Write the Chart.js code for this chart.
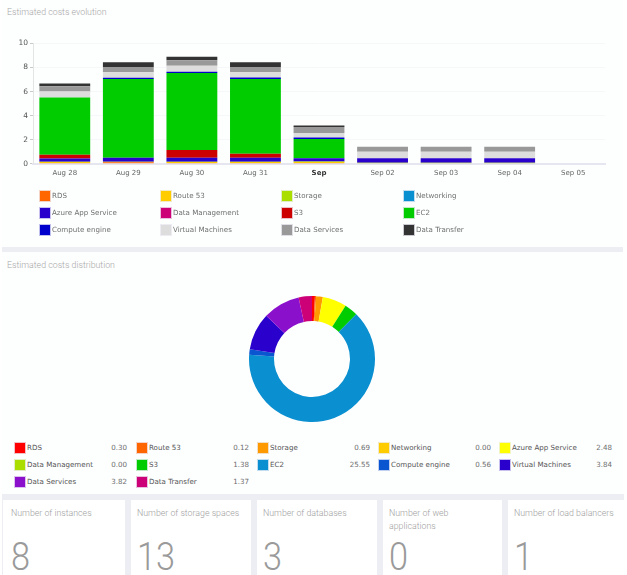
<!DOCTYPE html>
<html>
<head>
<meta charset="utf-8">
<title>Estimated costs</title>
<script src="https://cdn.jsdelivr.net/npm/chart.js@4"></script>
<style>
html, body { margin: 0; padding: 0; background: #fff; }
#page { position: relative; width: 627px; height: 575px; overflow: hidden; background: #fff; }
.panel { position: absolute; background: #fdfefe; }
.title { position: absolute; left: 7px; font: 300 8.8px Roboto, sans-serif; color: #a8a8a8; white-space: nowrap; }
canvas { position: absolute; }
.swatch { position: absolute; width: 10px; height: 10px; border: 1px solid rgba(240,240,248,.8); }
.lbl { position: absolute; font: 7.1px "DejaVu Sans", sans-serif; color: #6f6f6f; white-space: nowrap; line-height: 12px; }
.val { position: absolute; font: 7.1px "DejaVu Sans", sans-serif; color: #6f6f6f; text-align: right; width: 40px; line-height: 12px; }
#distLegend .lbl { color: #555; }
.card { position: absolute; top: 500px; height: 75px; background: #fff; }
.card .name { position: absolute; top: 6.5px; width: 104px; font: 300 8.8px/13px Roboto, sans-serif; color: #a0a0a0; }
.card .num { position: absolute; top: 33.7px; font: 300 39px/46px Roboto, sans-serif; color: #9a9a9a; transform: scaleX(.88); transform-origin: left; }
</style>
</head>
<body>
<div id="page">
    <div class="panel" style="left:2px;top:0;width:621px;height:247px"></div>
    <div style="position:absolute;left:2px;top:247px;width:621px;height:5px;background:#edeef3"></div>
    <div class="panel" style="left:2px;top:252px;width:621px;height:242px"></div>
    <div style="position:absolute;left:2px;top:494px;width:622px;height:81px;background:#edeef3"></div>

    <div class="title" style="top:7px">Estimated costs evolution</div>
    <canvas id="barChart" style="left:0;top:30px;width:627px;height:160px"></canvas>
    <div id="barLegend"></div>

    <div class="title" style="top:260px">Estimated costs distribution</div>
    <canvas id="donutChart" style="left:242px;top:289px;width:140px;height:140px"></canvas>
    <div id="distLegend"></div>

    <div id="cards"></div>
</div>

<script>
// --- Bar chart data ---
const days = ["Aug 28", "Aug 29", "Aug 30", "Aug 31", "Sep", "Sep 02", "Sep 03", "Sep 04", "Sep 05"];
const yTicks = [0, 2, 4, 6, 8, 10];

const rds        = [0.05, 0.12, 0.05, 0.05, 0.05, 0, 0, 0, 0];
const route53    = [0.10, 0.03, 0.10, 0.10, 0.10, 0, 0, 0, 0];
const storage    = [0.02, 0.02, 0.02, 0.02, 0.03, 0.07, 0.07, 0.07, 0];
const networking = [0, 0, 0, 0, 0, 0, 0, 0, 0];
const azureApp   = [0.26, 0.33, 0.33, 0.33, 0.27, 0.38, 0.38, 0.38, 0];
const dataMgmt   = [0, 0, 0, 0, 0, 0, 0, 0, 0];
const s3         = [0.32, 0, 0.65, 0.32, 0, 0, 0, 0, 0];
const ec2        = [4.75, 6.55, 6.40, 6.23, 1.60, 0, 0, 0, 0];
const compute    = [0, 0.10, 0.10, 0.12, 0.12, 0, 0, 0, 0];
const virtualMs  = [0.50, 0.45, 0.50, 0.43, 0.38, 0.55, 0.55, 0.55, 0];
const dataSvc    = [0.45, 0.45, 0.45, 0.45, 0.50, 0.42, 0.42, 0.42, 0];
const dataXfer   = [0.23, 0.40, 0.30, 0.40, 0.13, 0, 0, 0, 0];

const barNames = ["RDS", "Route 53", "Storage", "Networking", "Azure App Service", "Data Management",
    "S3", "EC2", "Compute engine", "Virtual Machines", "Data Services", "Data Transfer"];
const barColors = ["#ff6600", "#ffcc00", "#aadd00", "#0a8fd0", "#2a00cc", "#cc0077",
    "#cc0000", "#00cc00", "#0000cc", "#dddddd", "#999999", "#333333"];
const barSeries = [rds, route53, storage, networking, azureApp, dataMgmt, s3, ec2, compute, virtualMs, dataSvc, dataXfer];

// --- Donut data ---
const distNames = ["RDS", "Route 53", "Storage", "Networking", "Azure App Service", "Data Management",
    "S3", "EC2", "Compute engine", "Virtual Machines", "Data Services", "Data Transfer"];
const distValues = [0.30, 0.12, 0.69, 0.00, 2.48, 0.00, 1.38, 25.55, 0.56, 3.84, 3.82, 1.37];
const distColors = ["#ff0000", "#ff6600", "#ff9900", "#ffcc00", "#ffff00", "#aadd00",
    "#00cc00", "#0a8fd0", "#0a55d0", "#2a00cc", "#8a10cc", "#cc0077"];

// --- Counter cards ---
const cardNames = ["Number of instances", "Number of storage spaces", "Number of databases", "Number of web applications", "Number of load balancers"];
const cardValues = [8, 13, 3, 0, 1];
const cardLeft = [3, 131, 257, 383, 508];
const cardWidth = [122, 120, 120, 119, 116];

function addLegend(host, names, colors, columns, rowHeight, top, values) {
    names.forEach((name, i) => {
        const x = columns[i % columns.length];
        const y = top + Math.floor(i / columns.length) * rowHeight;
        const sw = document.createElement("div");
        sw.className = "swatch";
        sw.style.left = x + "px";
        sw.style.top = y + "px";
        sw.style.background = colors[i];
        host.appendChild(sw);

        const lbl = document.createElement("div");
        lbl.className = "lbl";
        lbl.style.left = (x + 13) + "px";
        lbl.style.top = y + "px";
        lbl.textContent = name;
        host.appendChild(lbl);

        if (values) {
            const val = document.createElement("div");
            val.className = "val";
            val.style.left = (x + 73) + "px";
            val.style.top = y + "px";
            val.textContent = values[i].toFixed(2);
            host.appendChild(val);
        }
    });
}

addLegend(document.getElementById("barLegend"), barNames, barColors, [39, 160, 281, 403], 17.2, 189.5);
addLegend(document.getElementById("distLegend"), distNames, distColors, [14, 136, 257, 378, 499], 17.2, 442, distValues);

const cards = document.getElementById("cards");
cardNames.forEach((name, i) => {
    const c = document.createElement("div");
    const pad = i === 0 ? 8 : 6;
    c.className = "card";
    c.style.left = cardLeft[i] + "px";
    c.style.width = cardWidth[i] + "px";
    c.innerHTML = `<div class="name" style="left:${pad}px">${name}</div><div class="num" style="left:${pad}px">${cardValues[i]}</div>`;
    cards.appendChild(c);
});

// --- Stacked bars ---
new Chart(document.getElementById("barChart").getContext("2d"), {
    type: "bar",
    data: {
        labels: days,
        datasets: barSeries.map((data, i) => ({
            label: barNames[i],
            data,
            backgroundColor: barColors[i],
            barPercentage: 0.8,
            categoryPercentage: 1
        }))
    },
    options: {
        responsive: false,
        animation: false,
        layout: { padding: { top: 13.5, right: 22, left: 0, bottom: 0 } },
        plugins: { legend: { display: false }, tooltip: { enabled: false } },
        scales: {
            x: {
                stacked: true,
                afterFit(scale) { scale.height = 26.3; },
                grid: { display: false, drawTicks: false },
                border: { color: "#e6e6f0", width: 2 },
                ticks: {
                    maxRotation: 0,
                    padding: 5,
                    color: ctx => (days[ctx.index] === "Sep" ? "#333" : "#666"),
                    font: ctx => ({
                        family: "'DejaVu Sans'",
                        size: 7,
                        weight: days[ctx.index] === "Sep" ? "bold" : "normal"
                    })
                }
            },
            y: {
                stacked: true,
                min: 0,
                max: 10,
                afterFit(scale) { scale.width = 33; },
                afterBuildTicks(scale) { scale.ticks = yTicks.map(value => ({ value })); },
                grid: { color: "#f6f7f9", tickColor: "#c8c8c8", tickLength: 3 },
                border: { color: "#e4e4e4" },
                ticks: {
                    padding: 2,
                    color: "#555",
                    font: { family: "'DejaVu Sans'", size: 7.5 }
                }
            }
        }
    }
});

// --- Donut ---
new Chart(document.getElementById("donutChart").getContext("2d"), {
    type: "doughnut",
    data: {
        labels: distNames,
        datasets: [{ data: distValues, backgroundColor: distColors, borderWidth: 0 }]
    },
    options: {
        responsive: false,
        animation: false,
        radius: 63,
        cutout: "60.3%",
        layout: { padding: 0 },
        plugins: { legend: { display: false }, tooltip: { enabled: false } }
    }
});
</script>
</body>
</html>
